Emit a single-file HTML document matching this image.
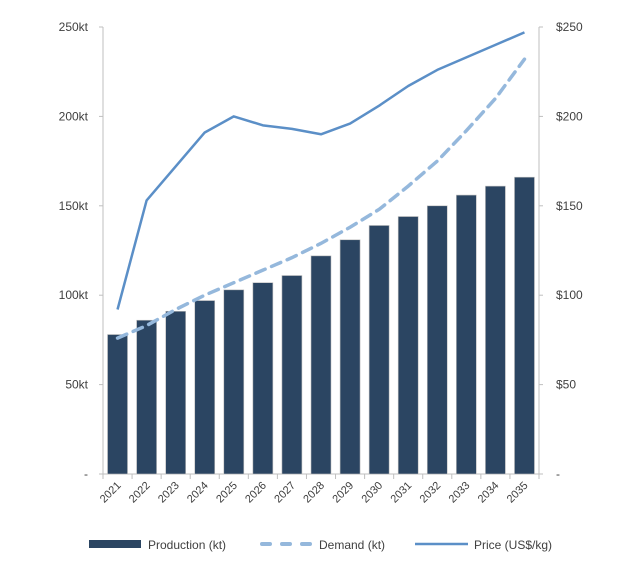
<!DOCTYPE html>
<html><head><meta charset="utf-8"><style>
body{margin:0;background:#fff;}
svg text{font-family:"Liberation Sans",sans-serif;fill:#404040;}
</style></head><body>
<svg id="c" width="639" height="568"></svg>
<script>
const years=["2021","2022","2023","2024","2025","2026","2027","2028","2029","2030","2031","2032","2033","2034","2035"];
const production=[78,86,91,97,103,107,111,122,131,139,144,150,156,161,166];
const demand=[76,83,92,100,107,114,121,129,138,148,161,175,192,210,232];
const price=[92,153,172,191,200,195,193,190,196,206,217,226,233,240,247];
const leftTicks=[0,50,100,150,200,250];
const leftLabels=["-","50kt","100kt","150kt","200kt","250kt"];
const rightLabels=["-","$50","$100","$150","$200","$250"];
const NS="http://www.w3.org/2000/svg";
const svg=document.getElementById('c');
const x0=103,x1=539,y0=474,y1=27,max=250;
const band=(x1-x0)/years.length;
const y=v=>y0-(v/max)*(y0-y1);
const xc=i=>x0+band*(i+0.5);
function el(t,a,p){const e=document.createElementNS(NS,t);for(const k in a)e.setAttribute(k,a[k]);(p||svg).appendChild(e);return e;}
let e=el('line',{x1:x0,y1:y1,x2:x0,y2:y0,stroke:'#bfbfbf'});


e=el('line',{x1:x1,y1:y1,x2:x1,y2:y0,stroke:'#bfbfbf'});


e=el('line',{x1:x0,y1:y0,x2:x1,y2:y0,stroke:'#bfbfbf'});


leftTicks.forEach((v,i)=>{
  el('line',{x1:x0-4,y1:y(v),x2:x0,y2:y(v),stroke:'#bfbfbf'});
  el('line',{x1:x1,y1:y(v),x2:x1+4,y2:y(v),stroke:'#bfbfbf'});
  let t=el('text',{x:88,y:y(v)+4,'text-anchor':'end','font-size':12});t.textContent=leftLabels[i];
  
  
  t=el('text',{x:556,y:y(v)+4,'font-size':12});t.textContent=rightLabels[i];
  
  
});
for(let i=0;i<=years.length;i++)el('line',{x1:x0+band*i,y1:y0,x2:x0+band*i,y2:y0+5,stroke:'#bfbfbf'});
years.forEach((yr,i)=>{
  const b=el('rect',{x:xc(i)-10,y:y(production[i]),width:20,height:y0-y(production[i]),fill:'#2b4562',stroke:'#bfbfbf','stroke-width':0.6});
  
  
  const t=el('text',{x:xc(i)+4,y:y0+12,'text-anchor':'end','font-size':11,transform:`rotate(-45 ${xc(i)+4} ${y0+12})`});
  t.textContent=yr;
  
  
});
const pts=a=>a.map((v,i)=>xc(i)+','+y(v)).join(' ');
e=el('polyline',{points:pts(demand),fill:'none',stroke:'#95b8dc','stroke-width':3.5,'stroke-dasharray':'10,7','stroke-linecap':'round'});


e=el('polyline',{points:pts(price),fill:'none',stroke:'#5b8fc7','stroke-width':2.5,'stroke-linejoin':'round'});


const lg=el('g',{});


el('rect',{x:89,y:540,width:52,height:8,fill:'#2b4562'},lg);
let t=el('text',{x:148,y:549,'font-size':12},lg);t.textContent='Production (kt)';
el('line',{x1:262,y1:544,x2:313,y2:544,stroke:'#95b8dc','stroke-width':4,'stroke-dasharray':'8,12','stroke-linecap':'round'},lg);
t=el('text',{x:319,y:549,'font-size':12},lg);t.textContent='Demand (kt)';
el('line',{x1:415,y1:544,x2:468,y2:544,stroke:'#5b8fc7','stroke-width':2.5},lg);
t=el('text',{x:474,y:549,'font-size':12},lg);t.textContent='Price (US$/kg)';
</script>
</body></html>
